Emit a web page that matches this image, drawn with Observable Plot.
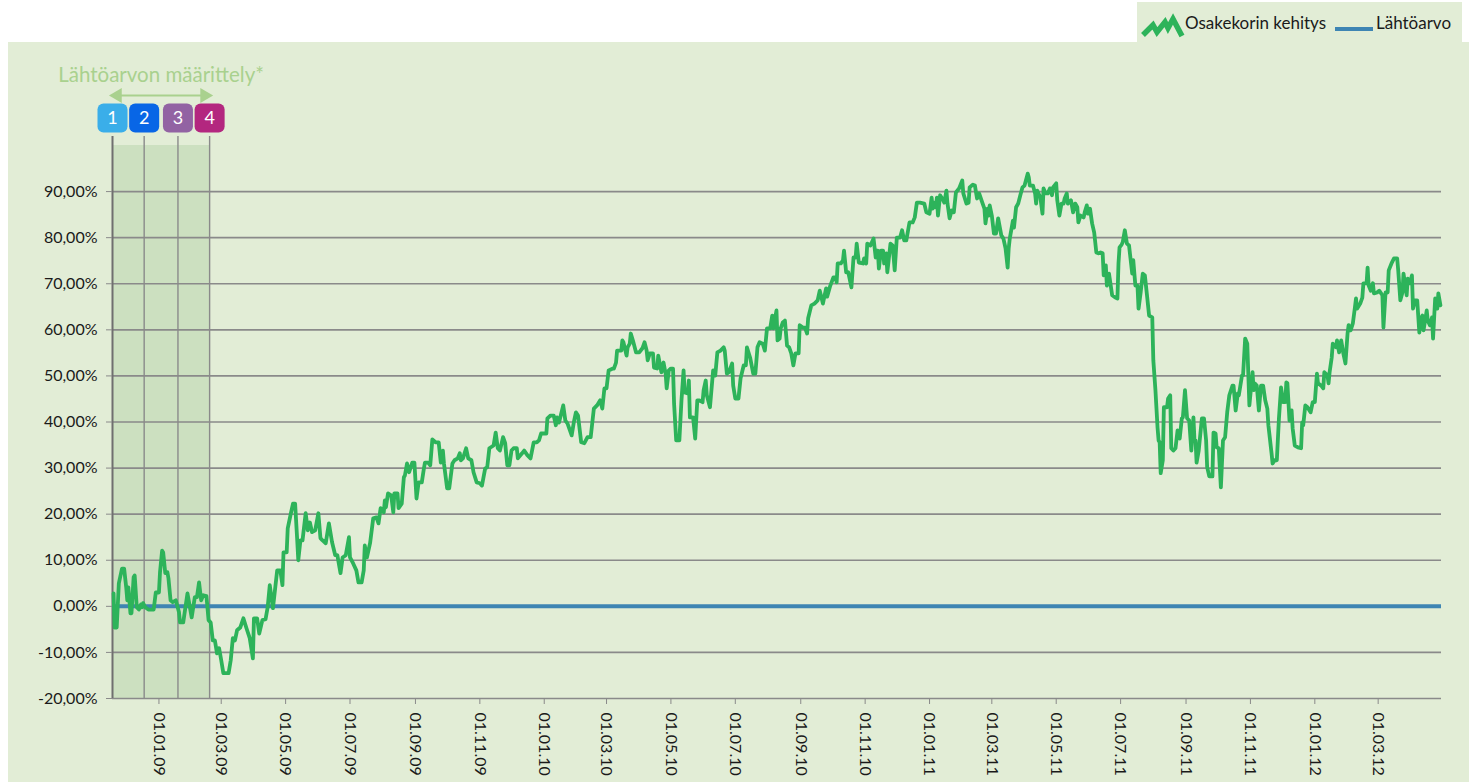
<!DOCTYPE html>
<html><head><meta charset="utf-8">
<script src="https://cdn.jsdelivr.net/npm/d3@7"></script>
<script src="https://cdn.jsdelivr.net/npm/@observablehq/plot@0.6"></script>
<style>
html,body{margin:0;padding:0;background:#fff;}
#wrap{position:relative;width:1469px;height:782px;overflow:hidden;background:#fff;font-family:Lato,"Noto Sans",sans-serif;color:#1a1a1a;}
#panel{position:absolute;left:8px;top:42px;width:1461px;height:740px;background:#e2edd6;}
#legend{position:absolute;left:1137px;top:2px;width:325px;height:40px;background:#e2edd6;font-size:17px;}
#legend .it{position:absolute;top:1px;height:40px;line-height:40px;white-space:nowrap;}
</style></head>
<body>
<div id="wrap">
  <div id="panel"></div>
  <div id="legend">
    <svg style="position:absolute;left:0;top:0" width="52" height="40" viewBox="0 0 52 40">
      <polyline points="6,33 16,23 20,30 28,20 31,26 36,17 45,34" fill="none" stroke="#2db35a" stroke-width="5.5" stroke-linejoin="miter" stroke-linecap="butt"/>
    </svg>
    <span class="it" style="left:48px">Osakekorin kehitys</span>
    <svg style="position:absolute;left:198px;top:25px" width="38" height="5"><rect width="38" height="4" fill="#3e85b3"/></svg>
    <span class="it" style="left:239px">Lähtöarvo</span>
  </div>
  <div id="chart" style="position:absolute;left:8px;top:42px;"></div>
</div>
<script>
// ---- data ----
const startDate = "2008-11-18";           // day 0 of the series
const domainStart = "2008-11-18";
const domainEnd = "2012-04-30";
// days since startDate
const dayOffsets = [1,2,4,6,9,11,13,14,15,17,18,20,21,23,25,27,28,29,31,34,39,41,44,45,47,48,50,52,53,55,57,60,63,64,67,71,75,78,80,82,84,86,89,91,93,95,97,99,101,103,105,110,112,114,116,118,121,124,127,130,133,134,137,139,142,145,147,149,152,156,159,161,162,165,166,169,171,173,175,176,178,180,183,185,187,189,192,195,197,199,202,205,208,211,213,216,218,221,224,225,228,231,233,236,238,239,241,244,247,250,252,254,257,258,259,261,264,266,267,270,271,274,276,277,279,281,284,286,288,290,293,295,296,299,301,303,306,309,311,313,314,317,319,322,324,327,329,330,332,335,337,340,342,345,348,350,353,355,357,361,363,365,367,370,372,374,376,378,380,383,384,388,390,393,396,399,402,404,406,411,412,415,418,420,421,423,427,429,431,435,437,439,441,444,447,450,453,456,459,462,464,466,468,470,474,475,477,478,482,483,484,487,488,490,491,493,496,499,502,504,506,507,509,512,513,516,517,520,522,524,525,527,529,531,532,534,537,539,541,542,545,546,547,550,552,554,556,559,560,562,563,566,569,571,573,576,579,580,582,584,587,588,590,593,595,598,600,601,604,607,609,611,613,616,618,620,623,625,626,629,630,632,633,635,637,639,641,643,645,647,650,651,654,656,658,659,662,665,668,670,673,676,677,680,683,685,686,687,690,692,693,695,697,700,702,704,705,707,711,712,714,715,718,721,723,724,725,726,728,730,731,733,734,737,739,740,741,743,746,748,750,752,755,758,760,762,765,769,771,774,776,777,778,780,781,782,784,787,788,790,791,793,795,797,799,802,805,806,809,811,812,815,817,819,821,824,826,827,829,830,831,833,835,837,839,842,844,846,848,849,850,853,854,856,858,860,862,864,867,868,869,872,874,875,876,879,881,882,884,886,888,890,891,894,895,897,899,901,902,904,905,908,910,912,914,915,917,920,921,923,924,926,928,930,932,934,936,938,939,941,942,944,947,950,952,953,954,956,957,959,961,963,966,967,969,971,972,974,976,978,980,982,985,986,988,990,991,992,993,995,996,999,1000,1002,1003,1005,1007,1009,1011,1013,1014,1016,1018,1020,1022,1024,1025,1026,1027,1029,1032,1034,1036,1037,1039,1042,1043,1045,1046,1048,1050,1052,1054,1056,1058,1061,1062,1064,1066,1067,1070,1071,1073,1075,1077,1080,1081,1082,1084,1086,1088,1090,1092,1094,1095,1098,1099,1101,1103,1105,1107,1109,1111,1112,1113,1115,1117,1118,1120,1123,1126,1127,1128,1130,1132,1135,1137,1139,1141,1142,1145,1147,1148,1151,1152,1153,1155,1156,1159,1160,1162,1164,1166,1168,1170,1171,1173,1175,1177,1178,1179,1182,1184,1185,1188,1189,1190,1192,1194,1195,1198,1200,1203,1204,1206,1208,1209,1212,1214,1217,1218,1220,1222,1223,1225,1226,1227,1229,1231,1232,1234,1236,1238,1240,1241,1242,1245,1246,1248,1250,1251,1253,1255,1256,1258];
// basket development, % from the starting value
const basketReturn = [2.8,-4.6,-4.6,5.0,8.2,8.2,4.1,1.3,4.1,-1.5,-1.5,6.3,6.7,-0.2,-0.7,0.4,-0.2,0.7,-0.2,-0.7,-0.7,3.0,3.0,7.4,12.1,11.7,7.2,7.4,6.1,1.3,0.9,1.3,-1.3,-3.5,-3.5,2.8,-2.4,2.0,2.0,5.2,1.3,2.4,2.2,-3.0,-3.5,-7.4,-7.4,-10.2,-9.1,-11.7,-14.5,-14.5,-11.7,-6.9,-7.4,-5.2,-4.6,-2.6,-4.8,-6.9,-11.3,-2.6,-2.6,-5.9,-3.0,-2.8,-0.2,4.6,-0.4,7.8,7.8,4.6,11.7,11.7,16.9,20.2,22.3,22.3,14.3,10.0,14.3,14.3,20.2,16.5,18.2,16.1,16.5,20.2,14.8,14.3,13.7,18.0,13.9,11.1,11.1,7.2,10.6,11.1,15.0,10.6,9.3,7.8,5.2,5.2,7.8,13.2,10.6,13.7,19.1,19.3,18.0,21.3,20.4,23.0,21.5,24.5,24.1,20.4,24.5,24.5,21.3,22.3,28.0,28.4,31.0,29.1,31.2,31.2,23.4,26.9,26.9,29.9,31.2,31.2,30.6,36.2,35.6,35.6,31.2,33.8,31.0,25.6,25.6,31.0,31.7,32.1,33.2,31.7,32.1,34.3,32.1,31.7,29.1,26.9,26.7,26.2,29.9,30.2,34.3,34.9,37.7,34.3,33.8,36.7,35.4,30.6,30.6,33.8,34.3,34.3,32.1,33.2,33.8,32.8,32.1,35.6,35.6,36.0,37.5,37.5,40.8,41.4,41.4,39.3,41.0,39.9,43.6,40.3,39.7,37.1,39.9,42.1,41.4,35.6,35.4,36.7,36.7,42.9,43.6,44.7,42.9,47.3,47.3,51.2,51.6,51.6,52.9,55.5,55.5,57.7,57.3,54.4,56.2,57.0,59.2,57.7,55.1,55.1,56.0,57.3,55.5,53.4,54.9,54.9,51.8,51.6,54.4,50.8,52.9,50.5,47.3,51.2,51.6,51.6,44.0,36.0,36.0,44.7,51.2,46.4,46.2,49.0,41.0,41.0,36.4,44.7,44.7,44.3,46.9,49.0,45.8,43.2,51.2,50.1,55.1,55.5,56.2,55.5,50.5,50.8,52.7,47.9,45.1,45.1,49.5,52.3,52.3,56.2,54.0,50.5,50.5,56.2,57.3,57.0,55.5,60.3,60.3,63.1,60.3,64.2,57.7,58.1,60.3,61.6,62.0,56.6,56.2,54.9,52.3,54.9,54.9,61.0,60.5,60.5,59.2,62.5,65.3,65.7,66.4,68.5,65.7,69.0,67.2,69.6,71.4,71.4,70.3,74.4,74.4,75.1,77.2,72.5,72.5,69.2,75.7,75.7,78.7,74.6,74.4,75.5,74.4,78.7,78.3,79.8,75.7,77.2,77.2,73.3,77.2,77.2,74.4,76.6,72.5,78.7,78.3,75.7,72.9,80.0,80.0,81.6,79.4,79.4,83.3,83.3,84.4,87.6,87.6,87.4,85.5,85.2,88.7,86.3,87.6,86.6,88.7,84.8,89.2,88.1,87.6,90.2,87.4,84.2,85.9,85.5,89.8,90.7,92.4,89.6,87.4,87.6,90.9,91.5,91.3,88.5,89.6,87.6,86.3,83.1,86.3,84.8,87.0,84.8,80.9,80.9,84.2,80.5,79.8,77.7,73.5,77.7,79.8,83.7,82.2,86.6,87.4,89.2,90.9,91.3,93.9,93.1,91.3,91.3,89.6,87.4,90.2,88.7,85.2,90.7,89.6,89.6,90.7,89.2,90.9,91.8,88.1,84.8,87.4,87.4,88.5,89.6,87.4,88.1,85.5,87.4,86.6,83.3,84.8,84.4,85.5,87.0,85.2,86.3,83.1,81.1,76.8,76.6,76.8,76.6,71.8,74.0,69.6,72.2,67.5,67.0,66.8,74.4,77.9,78.5,79.0,81.6,78.7,78.3,72.2,75.1,69.6,69.6,64.6,68.1,72.2,71.8,67.5,63.1,62.7,53.4,46.9,38.8,36.0,35.6,28.9,31.7,43.2,43.2,45.1,45.8,34.3,33.8,34.3,38.2,36.4,40.8,41.0,46.9,40.8,40.3,33.8,41.0,36.0,36.0,31.2,33.8,40.8,40.8,36.0,30.2,28.2,28.2,37.7,37.5,34.5,34.3,25.8,36.0,36.7,42.1,45.8,47.9,47.9,42.5,46.2,45.8,50.1,50.1,58.1,57.0,43.6,50.8,46.9,48.4,47.9,42.5,47.9,47.9,44.7,42.9,39.3,33.2,31.0,31.7,31.7,40.8,47.5,44.3,44.3,48.6,48.4,40.3,42.5,38.6,34.9,34.5,34.3,39.9,39.3,43.6,43.2,42.1,44.3,44.3,50.5,48.4,47.9,47.3,50.8,50.1,48.4,50.8,54.0,57.0,56.2,57.7,55.1,57.7,54.9,52.7,59.2,61.0,59.9,61.4,64.9,66.8,64.6,65.7,67.0,70.1,70.1,73.5,69.6,68.5,70.1,67.9,68.1,68.5,67.5,60.5,68.1,68.1,72.9,74.6,75.5,75.5,72.9,66.4,68.1,72.2,69.2,67.5,71.1,70.1,71.8,64.6,66.4,66.4,59.4,62.7,63.1,59.9,64.2,62.0,61.0,62.7,58.1,66.8,64.6,67.9,65.3];
const baselineValue = [0];
const yTicks = [-20,-10,0,10,20,30,40,50,60,70,80,90];
const xTickDates = ["2009-01-01","2009-03-01","2009-05-01","2009-07-01","2009-09-01","2009-11-01","2010-01-01","2010-03-01","2010-05-01","2010-07-01","2010-09-01","2010-11-01","2011-01-01","2011-03-01","2011-05-01","2011-07-01","2011-09-01","2011-11-01","2012-01-01","2012-03-01"];
const phaseDates = ["2008-11-18","2008-12-18","2009-01-19","2009-02-18"];
const phaseLabels = ["1","2","3","4"];
const phaseColors = ["#3aaee9","#0866e6","#9263a3","#b3277f"];
const annotationTitle = "Lähtöarvon määrittely*";
const seriesNames = ["Osakekorin kehitys","Lähtöarvo"];

// ---- build ----
const parse = d3.utcParse("%Y-%m-%d");
const t0 = parse(startDate);
const series = dayOffsets.map((d, i) => ({date: d3.utcDay.offset(t0, d), value: basketReturn[i]}));
const xDomain = [parse(domainStart), parse(domainEnd)];
const xTicks = xTickDates.map(parse);
const phases = phaseDates.map((d, i) => ({date: parse(d), label: phaseLabels[i], color: phaseColors[i]}));
const phaseSpan = [{x1: phases[0].date, x2: phases[phases.length - 1].date}];
const phaseMid = [{date: new Date((+phases[0].date + +phases[phases.length - 1].date) / 2), text: annotationTitle}];
const fmtPct = d => d.toFixed(2).replace(".", ",") + "%";
const GREEN = "#2db35a", BLUE = "#3e85b3", GRID = "#8a8a8a", SOFT = "#a9d18e";
const topY = 100;

const badge = {draw(ctx) {
  const w = 15, h = 14.5, r = 6;
  ctx.moveTo(-w + r, -h);
  ctx.arcTo(w, -h, w, h, r);
  ctx.arcTo(w, h, -w, h, r);
  ctx.arcTo(-w, h, -w, -h, r);
  ctx.arcTo(-w, -h, w, -h, r);
  ctx.closePath();
}};

const chart = Plot.plot({
  width: 1461, height: 740,
  marginLeft: 104, marginRight: 28, marginTop: 103, marginBottom: 84,
  style: {background: "transparent", fontFamily: "Lato, 'Noto Sans', sans-serif", fontSize: "16px", color: "#1a1a1a", overflow: "visible"},
  x: {type: "utc", domain: xDomain},
  y: {domain: [-20, 100]},
  color: {type: "identity"},
  marks: [
    Plot.rect(phaseSpan, {x1: "x1", x2: "x2", y1: -20, y2: topY, fill: "#cce0c0"}),
    Plot.ruleY(yTicks, {stroke: GRID, strokeWidth: 1.6}),
    Plot.ruleX(phases.slice(1), {x: "date", y1: topY, y2: -20, insetTop: -9, stroke: GRID, strokeWidth: 1.4}),
    Plot.ruleX([xDomain[0]], {y1: topY, y2: -20, insetTop: -9, stroke: "#6f6f6f", strokeWidth: 2}),
    Plot.axisY(yTicks, {tickFormat: fmtPct, tickSize: 6, tickPadding: 9, stroke: GRID, fill: "#1a1a1a", fontSize: 16, label: null}),
    Plot.axisX(xTicks, {tickFormat: d3.utcFormat("%d.%m.%y"), tickRotate: 90, tickSize: 6, tickPadding: 8, stroke: GRID, fill: "#1a1a1a", fontSize: 16, label: null}),
    Plot.ruleY(baselineValue, {stroke: BLUE, strokeWidth: 4}),
    Plot.line(series, {x: "date", y: "value", stroke: GREEN, strokeWidth: 3.8, strokeLinejoin: "round"}),
    // annotation above the starting-value period
    Plot.text(phaseMid, {x: "date", y: topY, dy: -70, text: "text", fill: SOFT, fontSize: 20.5}),
    Plot.link(phaseSpan, {x1: "x1", x2: "x2", y1: topY, y2: topY, dy: -50, stroke: SOFT, strokeWidth: 2}),
    Plot.dot([phases[0]], {x: "date", y: topY, dy: -50, dx: 5, symbol: "triangle", rotate: -90, r: 5.5, fill: SOFT, stroke: null}),
    Plot.dot([phases[phases.length - 1]], {x: "date", y: topY, dy: -50, dx: -5, symbol: "triangle", rotate: 90, r: 5.5, fill: SOFT, stroke: null}),
    Plot.dot(phases, {x: "date", y: topY, dy: -27.5, symbol: badge, r: 10, fill: "color", stroke: null}),
    Plot.text(phases, {x: "date", y: topY, dy: -27.5, text: "label", fill: "white", fontSize: 18})
  ]
});
document.getElementById("chart").appendChild(chart);
</script>
</body></html>
